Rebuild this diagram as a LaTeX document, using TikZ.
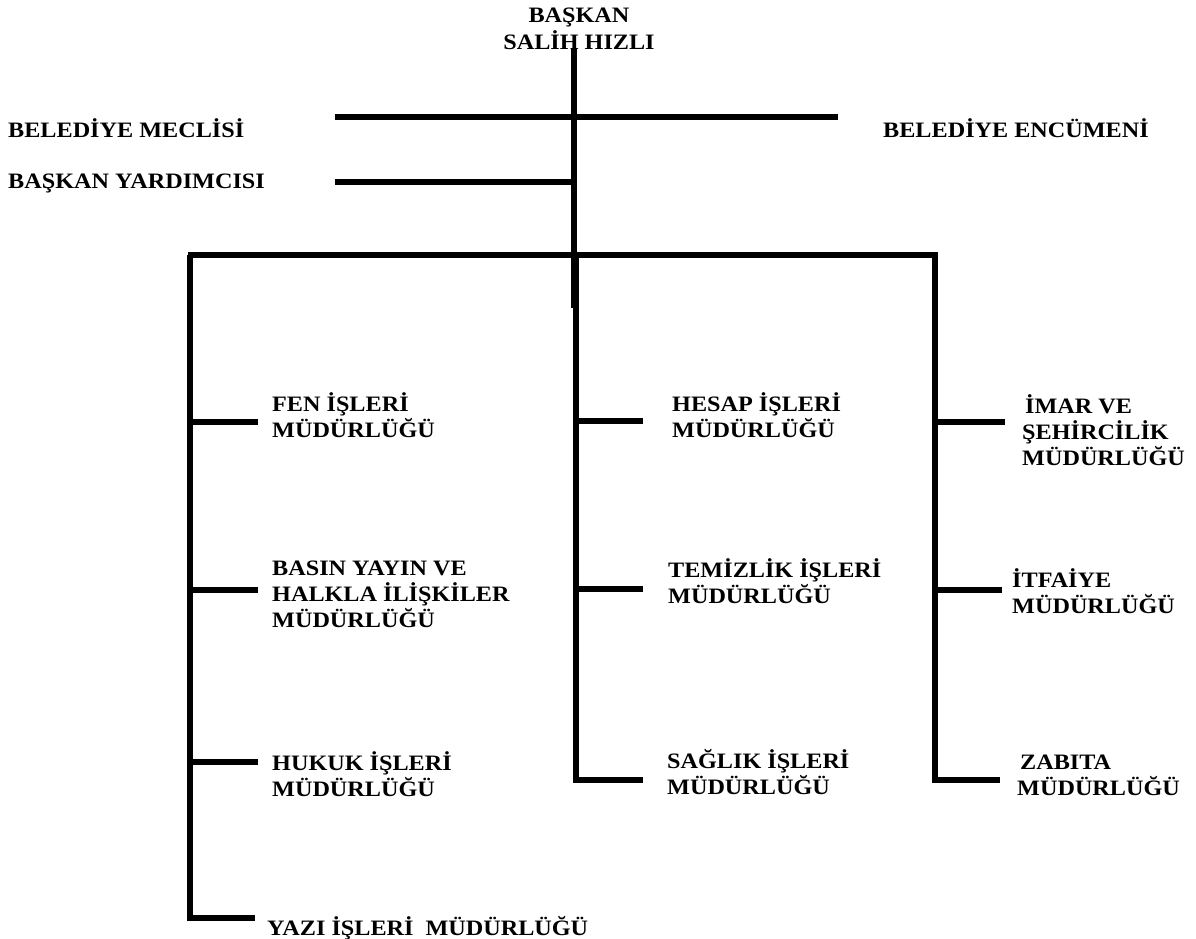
\documentclass[tikz,border=0pt]{standalone}
\usepackage{fontspec}
\setmainfont{Liberation Serif}[FakeStretch=1.1]
\begin{document}
\begin{tikzpicture}[x=1pt,y=-1pt,
  lbl/.style={anchor=west, inner sep=0pt, align=left, font=\fontsize{22}{26}\selectfont\bfseries},
  ctr/.style={inner sep=0pt, align=center, font=\fontsize{22}{27}\selectfont\bfseries},
  bar/.style={line width=5.5pt, line cap=butt}]
\useasboundingbox (0,0) rectangle (1196,939);
% labels
\node[ctr] (baskan) at (579,28.5) {BAŞKAN\\SALİH HIZLI};
\node[lbl] (meclis) at (8,128) {BELEDİYE MECLİSİ};
\node[lbl] (yard) at (8,183) {BAŞKAN YARDIMCISI};
\node[lbl] (encumen) at (883,128) {BELEDİYE ENCÜMENİ};
\node[lbl] (fen) at (272,415.5) {FEN İŞLERİ\\MÜDÜRLÜĞÜ};
\node[lbl] (basin) at (272,594) {BASIN YAYIN VE\\HALKLA İLİŞKİLER\\MÜDÜRLÜĞÜ};
\node[lbl] (hukuk) at (272,774.5) {HUKUK İŞLERİ\\MÜDÜRLÜĞÜ};
\node[lbl] (yazi) at (267,928) {YAZI İŞLERİ\hspace{12pt}MÜDÜRLÜĞÜ};
\node[lbl] (hesap) at (672,415) {HESAP İŞLERİ\\MÜDÜRLÜĞÜ};
\node[lbl] (temiz) at (668,581.5) {TEMİZLİK İŞLERİ\\MÜDÜRLÜĞÜ};
\node[lbl] (saglik) at (667,772.5) {SAĞLIK İŞLERİ\\MÜDÜRLÜĞÜ};
\node[lbl] (imar) at (1022,430) {\hspace{3pt}İMAR VE\\ŞEHİRCİLİK\\MÜDÜRLÜĞÜ};
\node[lbl] (itfaiye) at (1012,591.5) {İTFAİYE\\MÜDÜRLÜĞÜ};
\node[lbl] (zabita) at (1017,775) {\hspace{3pt}ZABITA\\MÜDÜRLÜĞÜ};
% coordinates
\coordinate (top) at (574,48);
\coordinate (trunkend) at (574,308);
\coordinate (mL) at (335,117);
\coordinate (mR) at (838,117);
\coordinate (yL) at (335,182);
\coordinate (yR) at (574,182);
\coordinate (hL) at (188,255);
\coordinate (hR) at (937.5,255);
\coordinate (cL) at (190,255);
\coordinate (cLend) at (190,920.5);
\coordinate (cM) at (576,255);
\coordinate (cMend) at (576,782.5);
\coordinate (cR) at (935,255);
\coordinate (cRend) at (935,782.5);
\coordinate (fenE) at (258,422);
\coordinate (basinE) at (258,590);
\coordinate (hukukE) at (258,762);
\coordinate (yaziE) at (255,918);
\coordinate (hesapE) at (643,421);
\coordinate (temizE) at (643,589);
\coordinate (saglikE) at (643,780);
\coordinate (imarE) at (1005,422);
\coordinate (itfE) at (1002,590);
\coordinate (zabE) at (1000,780);
% bars
\draw[bar] (top) -- (trunkend);
\draw[bar] (mL) -- (mR);
\draw[bar] (yL) -- (yR);
\draw[bar] (hL) -- (hR);
\draw[bar] (cL) -- (cLend);
\draw[bar] (cM) -- (cMend);
\draw[bar] (cR) -- (cRend);
\draw[bar] (cL |- fenE) -- (fenE);
\draw[bar] (cL |- basinE) -- (basinE);
\draw[bar] (cL |- hukukE) -- (hukukE);
\draw[bar] ([xshift=-2.75pt]cL |- yaziE) -- (yaziE);
\draw[bar] (cM |- hesapE) -- (hesapE);
\draw[bar] (cM |- temizE) -- (temizE);
\draw[bar] ([xshift=-2.75pt]cM |- saglikE) -- (saglikE);
\draw[bar] (cR |- imarE) -- (imarE);
\draw[bar] (cR |- itfE) -- (itfE);
\draw[bar] ([xshift=-2.75pt]cR |- zabE) -- (zabE);
\end{tikzpicture}
\end{document}
